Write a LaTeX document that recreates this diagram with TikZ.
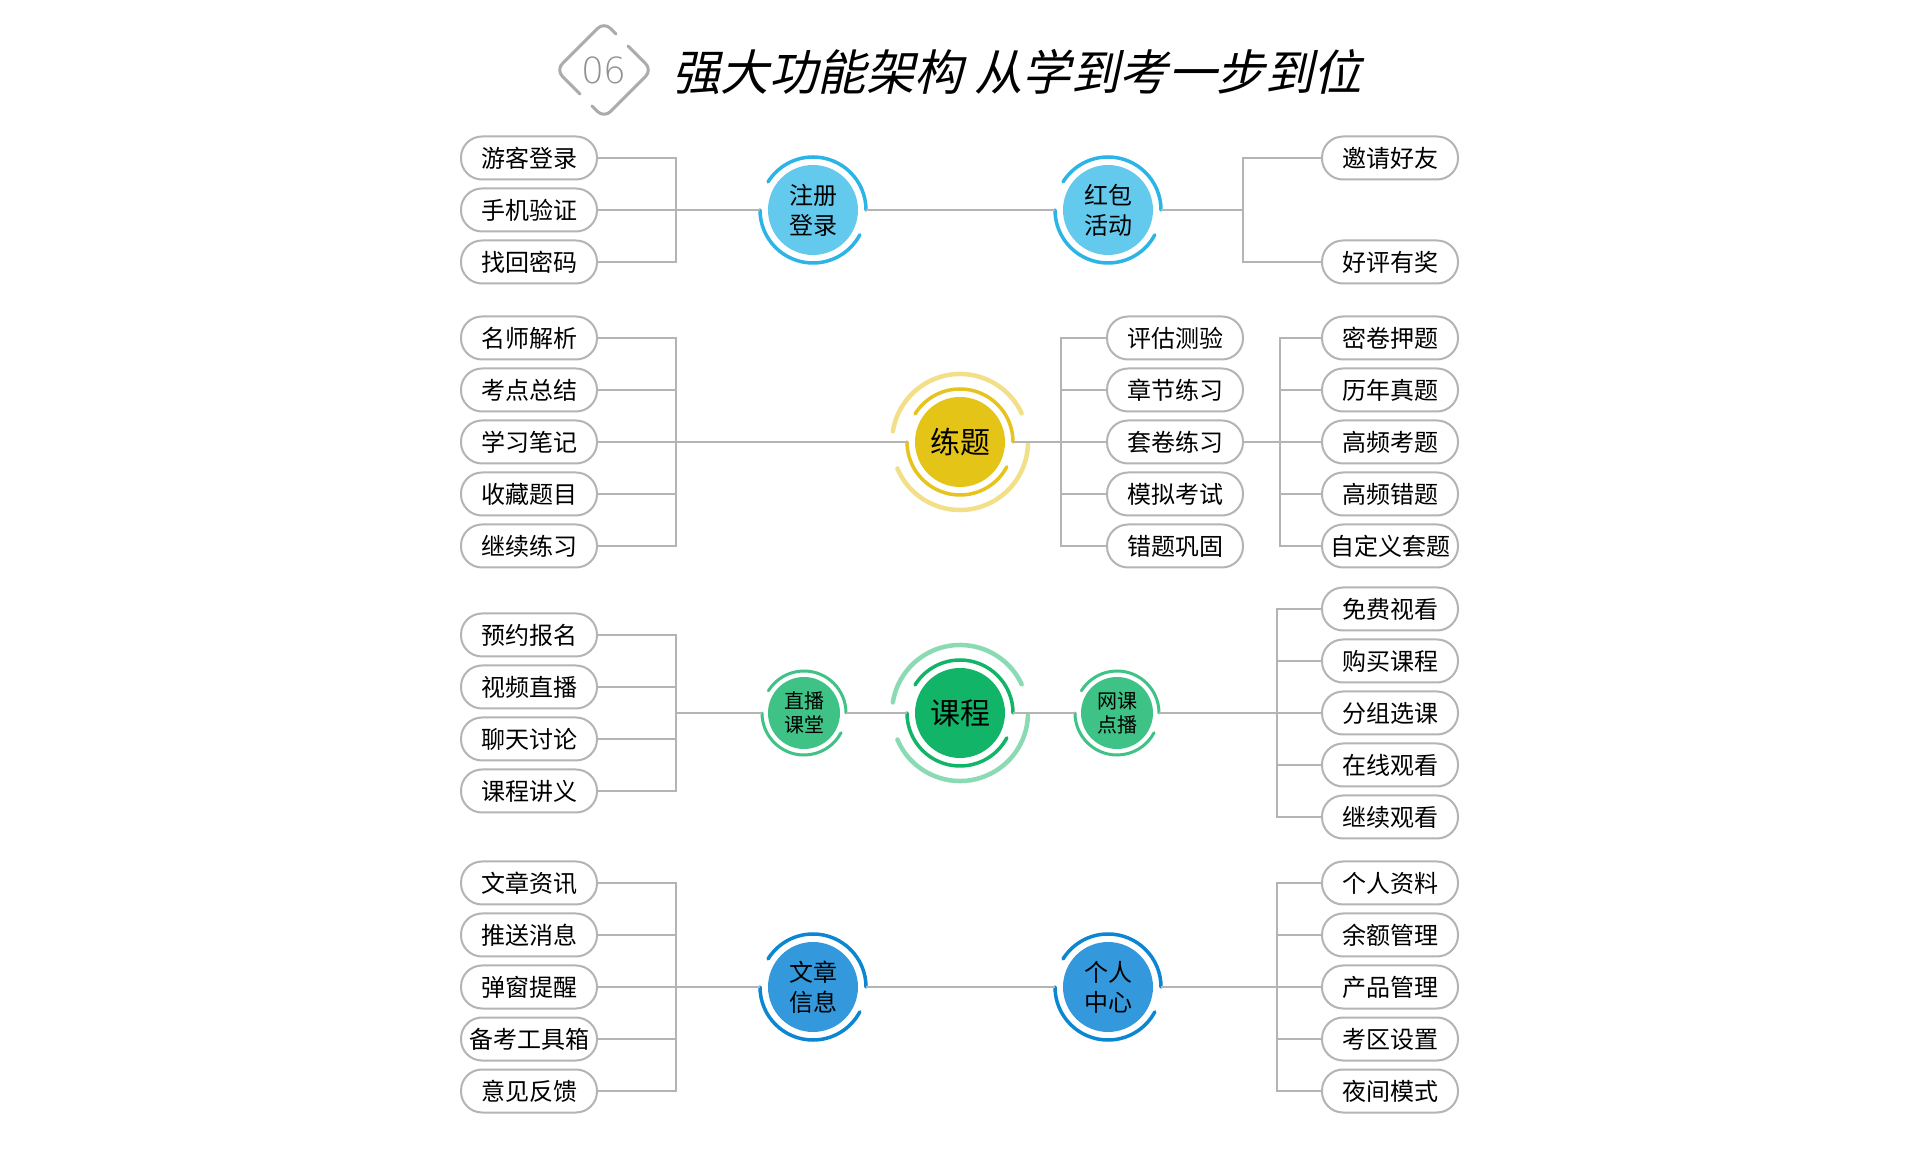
\documentclass[tikz,border=0pt]{standalone}
\usepackage{fontspec}
\setmainfont{Noto Sans CJK SC}
\newfontfamily\titlefont[FakeSlant=0.22]{Noto Sans CJK SC}
\newfontfamily\numfont{DejaVu Sans ExtraLight}
\definecolor{lineg}{HTML}{B4B4B4}
\definecolor{pillg}{HTML}{B4B4B4}
\definecolor{lbfill}{HTML}{63CAEE}
\definecolor{lbring}{HTML}{2BB5E6}
\definecolor{yfill}{HTML}{E4C416}
\definecolor{yring}{HTML}{E7C31D}
\definecolor{ylight}{HTML}{F2DF87}
\definecolor{gfill}{HTML}{12B468}
\definecolor{glight}{HTML}{8ADAB3}
\definecolor{sgfill}{HTML}{3EC286}
\definecolor{bfill}{HTML}{3399DC}
\definecolor{bring}{HTML}{0B86D2}
\definecolor{diag}{HTML}{ABABAB}
\newcommand\myrings[4]{%
  \draw[line width=#4, line cap=round, #3] ([shift={(0:#2)}]#1.center) arc[start angle=0, end angle=148, radius=#2];
  \draw[line width=#4, line cap=round, #3] ([shift={(180:#2)}]#1.center) arc[start angle=180, end angle=332, radius=#2];}
\newcommand\myouter[4]{%
  \draw[line width=#4, line cap=round, #3] ([shift={(25:#2)}]#1.center) arc[start angle=25, end angle=171, radius=#2];
  \draw[line width=#4, line cap=round, #3] ([shift={(203:#2)}]#1.center) arc[start angle=203, end angle=358, radius=#2];}
\begin{document}
\begin{tikzpicture}[x=1bp,y=1bp,
  pill/.style={draw=pillg, line width=2bp, fill=white, rounded corners=21bp,
    minimum width=136bp, minimum height=43bp, inner sep=0pt,
    font=\fontsize{24bp}{28bp}\selectfont},
  conn/.style={draw=lineg, line width=2bp},
  hub/.style={circle, inner sep=0pt, minimum size=90bp, outer sep=8bp, align=center,
    font=\fontsize{24bp}{30bp}\selectfont},
  bighub/.style={hub, font=\fontsize{30bp}{34bp}\selectfont},
  smallhub/.style={circle, inner sep=0pt, minimum size=72bp, outer sep=6bp, align=center,
    font=\fontsize{20bp}{24bp}\selectfont}]
\useasboundingbox (0,0) rectangle (1920,1150);
\fill[white] (0,0) rectangle (1920,1150);

% ---------- title ----------
\draw[diag, line width=3bp, line cap=round, rounded corners=9bp]
  (628,1104) -- (652,1080) -- (604,1032) -- (592,1044);
\draw[diag, line width=3bp, line cap=round, rounded corners=9bp]
  (580,1056) -- (556,1080) -- (604,1128) -- (616,1116);
\node[text=diag!85!black, font=\numfont\fontsize{36bp}{40bp}\selectfont, inner sep=0pt] (num) at (604,1080) {06};
\node[anchor=west, inner sep=0pt, font=\titlefont\fontsize{48.5bp}{52bp}\selectfont] (title) at (672,1078)
  {强大功能架构 从学到考一步到位};

% ---------- group 1 ----------
\node[pill] (a1) at (529,992) {游客登录};
\node[pill] (a2) at (529,940) {手机验证};
\node[pill] (a3) at (529,888) {找回密码};
\node[hub, fill=lbfill] (zc) at (813,940) {注册\\登录};
\node[hub, fill=lbfill] (hb) at (1108,940) {红包\\活动};
\node[pill] (r1) at (1390,992) {邀请好友};
\node[pill] (r2) at (1390,888) {好评有奖};
\myrings{zc}{53bp}{lbring}{3.5bp}
\myrings{hb}{53bp}{lbring}{3.5bp}
\coordinate (bL1) at (676,940);
\coordinate (bR1) at (1243,940);
\draw[conn] (a1.east) -| (bL1) |- (a3.east);
\draw[conn] (a2.east) -- (zc.west);
\draw[conn] (zc.east) -- (hb.west);
\draw[conn] (hb.east) -- (bR1);
\draw[conn] (r1.west) -| (bR1) |- (r2.west);

% ---------- group 2 ----------
\node[pill] (b1) at (529,812) {名师解析};
\node[pill] (b2) at (529,760) {考点总结};
\node[pill] (b3) at (529,708) {学习笔记};
\node[pill] (b4) at (529,656) {收藏题目};
\node[pill] (b5) at (529,604) {继续练习};
\node[bighub, fill=yfill] (lt) at (960,708) {练题};
\myrings{lt}{53bp}{yring}{3.5bp}
\myouter{lt}{68bp}{ylight}{4.5bp}
\node[pill] (m1) at (1175,812) {评估测验};
\node[pill] (m2) at (1175,760) {章节练习};
\node[pill] (m3) at (1175,708) {套卷练习};
\node[pill] (m4) at (1175,656) {模拟考试};
\node[pill] (m5) at (1175,604) {错题巩固};
\node[pill] (s1) at (1390,812) {密卷押题};
\node[pill] (s2) at (1390,760) {历年真题};
\node[pill] (s3) at (1390,708) {高频考题};
\node[pill] (s4) at (1390,656) {高频错题};
\node[pill] (s5) at (1390,604) {自定义套题};
\coordinate (bL2) at (676,708);
\coordinate (bM2) at (1061,708);
\coordinate (bR2) at (1280,708);
\draw[conn] (b1.east) -| (bL2) |- (b5.east);
\draw[conn] (b2.east) -- (b2.east -| bL2);
\draw[conn] (b4.east) -- (b4.east -| bL2);
\draw[conn] (b3.east) -- (lt.west);
\draw[conn] (lt.east) -- (bM2);
\draw[conn] (m1.west) -| (bM2) |- (m5.west);
\draw[conn] (m2.west) -- (m2.west -| bM2);
\draw[conn] (m3.west) -- (bM2);
\draw[conn] (m4.west) -- (m4.west -| bM2);
\draw[conn] (m3.east) -- (bR2);
\draw[conn] (s1.west) -| (bR2) |- (s5.west);
\draw[conn] (s2.west) -- (s2.west -| bR2);
\draw[conn] (s3.west) -- (bR2);
\draw[conn] (s4.west) -- (s4.west -| bR2);

% ---------- group 3 ----------
\node[pill] (c1) at (529,515) {预约报名};
\node[pill] (c2) at (529,463) {视频直播};
\node[pill] (c3) at (529,411) {聊天讨论};
\node[pill] (c4) at (529,359) {课程讲义};
\node[smallhub, fill=sgfill] (zb) at (804,437) {直播\\课堂};
\node[bighub, fill=gfill] (kc) at (960,437) {课程};
\node[smallhub, fill=sgfill] (wk) at (1117,437) {网课\\点播};
\myrings{zb}{42bp}{sgfill}{3bp}
\myrings{wk}{42bp}{sgfill}{3bp}
\myrings{kc}{53bp}{gfill}{3.5bp}
\myouter{kc}{68bp}{glight}{4.5bp}
\node[pill] (u1) at (1390,541) {免费视看};
\node[pill] (u2) at (1390,489) {购买课程};
\node[pill] (u3) at (1390,437) {分组选课};
\node[pill] (u4) at (1390,385) {在线观看};
\node[pill] (u5) at (1390,333) {继续观看};
\coordinate (bL3) at (676,437);
\coordinate (bR3) at (1277,437);
\draw[conn] (c1.east) -| (bL3) |- (c4.east);
\draw[conn] (c2.east) -- (c2.east -| bL3);
\draw[conn] (c3.east) -- (c3.east -| bL3);
\draw[conn] (bL3) -- (zb.west);
\draw[conn] (zb.east) -- (kc.west);
\draw[conn] (kc.east) -- (wk.west);
\draw[conn] (wk.east) -- (bR3);
\draw[conn] (u1.west) -| (bR3) |- (u5.west);
\draw[conn] (u2.west) -- (u2.west -| bR3);
\draw[conn] (u3.west) -- (bR3);
\draw[conn] (u4.west) -- (u4.west -| bR3);

% ---------- group 4 ----------
\node[pill] (d1) at (529,267) {文章资讯};
\node[pill] (d2) at (529,215) {推送消息};
\node[pill] (d3) at (529,163) {弹窗提醒};
\node[pill] (d4) at (529,111) {备考工具箱};
\node[pill] (d5) at (529,59) {意见反馈};
\node[hub, fill=bfill] (wz) at (813,163) {文章\\信息};
\node[hub, fill=bfill] (gr) at (1108,163) {个人\\中心};
\myrings{wz}{53bp}{bring}{3.5bp}
\myrings{gr}{53bp}{bring}{3.5bp}
\node[pill] (v1) at (1390,267) {个人资料};
\node[pill] (v2) at (1390,215) {余额管理};
\node[pill] (v3) at (1390,163) {产品管理};
\node[pill] (v4) at (1390,111) {考区设置};
\node[pill] (v5) at (1390,59) {夜间模式};
\coordinate (bL4) at (676,163);
\coordinate (bR4) at (1277,163);
\draw[conn] (d1.east) -| (bL4) |- (d5.east);
\draw[conn] (d2.east) -- (d2.east -| bL4);
\draw[conn] (d4.east) -- (d4.east -| bL4);
\draw[conn] (d3.east) -- (wz.west);
\draw[conn] (wz.east) -- (gr.west);
\draw[conn] (gr.east) -- (bR4);
\draw[conn] (v1.west) -| (bR4) |- (v5.west);
\draw[conn] (v2.west) -- (v2.west -| bR4);
\draw[conn] (v3.west) -- (bR4);
\draw[conn] (v4.west) -- (v4.west -| bR4);
\end{tikzpicture}
\end{document}
